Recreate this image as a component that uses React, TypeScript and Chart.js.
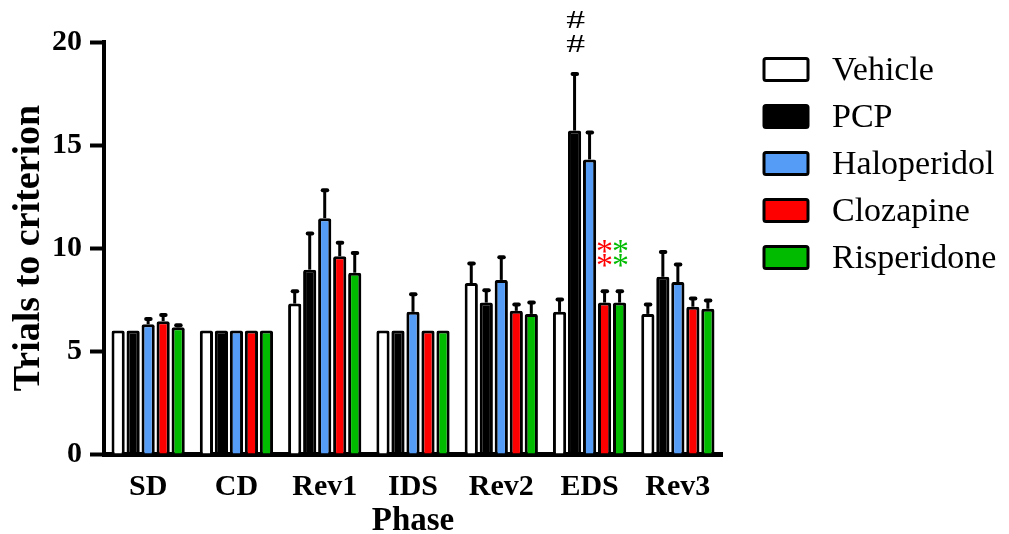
import React, { useEffect, useRef } from 'react';
import { Chart, registerables } from 'chart.js';

Chart.register(...registerables);

const phases = ['SD', 'CD', 'Rev1', 'IDS', 'Rev2', 'EDS', 'Rev3'];
const groupNames = ['Vehicle', 'PCP', 'Haloperidol', 'Clozapine', 'Risperidone'];
const groupColors = ['#ffffff', '#000000', '#559cf6', '#ff0000', '#00bb00'];

const vehicleMean = [6, 6, 7.3, 6, 8.3, 6.9, 6.8];
const vehicleSem = [0, 0, 0.65, 0, 1.0, 0.65, 0.5];
const pcpMean = [6, 6, 8.95, 6, 7.35, 15.7, 8.6];
const pcpSem = [0, 0, 1.8, 0, 0.65, 2.8, 1.25];
const haloMean = [6.3, 6, 11.45, 6.9, 8.45, 14.3, 8.35];
const haloSem = [0.3, 0, 1.4, 0.9, 1.15, 1.35, 0.9];
const clozMean = [6.45, 6, 9.6, 6, 6.95, 7.35, 7.15];
const clozSem = [0.35, 0, 0.7, 0, 0.35, 0.6, 0.45];
const rispMean = [6.15, 6, 8.8, 6, 6.8, 7.35, 7.05];
const rispSem = [0.15, 0, 1.0, 0, 0.6, 0.6, 0.45];

const means = [vehicleMean, pcpMean, haloMean, clozMean, rispMean];
const sems = [vehicleSem, pcpSem, haloSem, clozSem, rispSem];

const SERIF = '"Liberation Serif", "Times New Roman", serif';

const errorBarPlugin = {
  id: 'errorBars',
  afterDatasetsDraw(chart: any) {
    const ctx = chart.ctx;
    const ys = chart.scales.y;
    chart.data.datasets.forEach((ds: any, i: number) => {
      const meta = chart.getDatasetMeta(i);
      meta.data.forEach((bar: any, j: number) => {
        const e = sems[i][j];
        if (!e) return;
        const v = ds.data[j];
        const x = bar.x;
        const y0 = bar.y;
        const y1 = ys.getPixelForValue(v + e);
        ctx.save();
        ctx.strokeStyle = '#000';
        ctx.lineWidth = 3;
        ctx.beginPath();
        ctx.moveTo(x, y0);
        ctx.lineTo(x, y1);
        ctx.stroke();
        ctx.lineWidth = 4;
        ctx.lineCap = 'round';
        ctx.beginPath();
        ctx.moveTo(x - 2, y1 + 1);
        ctx.lineTo(x + 2.5, y1 + 1);
        ctx.stroke();
        ctx.restore();
      });
    });
  },
};

const annotationPlugin = {
  id: 'annotations',
  afterDatasetsDraw(chart: any) {
    const ctx = chart.ctx;
    const ys = chart.scales.y;
    const eds = phases.indexOf('EDS');
    const pcpBar = chart.getDatasetMeta(1).data[eds];
    const clozBar = chart.getDatasetMeta(3).data[eds];
    const rispBar = chart.getDatasetMeta(4).data[eds];
    ctx.save();
    const pcpTop = ys.getPixelForValue(pcpMean[eds] + pcpSem[eds]);
    ctx.fillStyle = '#000';
    ctx.textAlign = 'center';
    ctx.textBaseline = 'alphabetic';
    ctx.font = `26px ${SERIF}`;
    [pcpTop - 52.5, pcpTop - 29].forEach((cy) => {
      ctx.save();
      ctx.translate(pcpBar.x + 1, cy);
      ctx.scale(1.45, 0.95);
      ctx.fillText('#', 0, 8.5);
      ctx.restore();
    });
    const clozTop = ys.getPixelForValue(clozMean[eds] + clozSem[eds]);
    ctx.font = `34px ${SERIF}`;
    [clozTop - 46, clozTop - 32].forEach((cy) => {
      ctx.fillStyle = '#ff0000';
      ctx.fillText('*', clozBar.x, cy + 18);
      ctx.fillStyle = '#00bb00';
      ctx.fillText('*', rispBar.x + 1, cy + 18);
    });
    ctx.restore();
  },
};

const legendPlugin = {
  id: 'customLegend',
  afterDraw(chart: any) {
    const ctx = chart.ctx;
    ctx.save();
    groupNames.forEach((name, i) => {
      const cy = 69.5 + i * 47;
      const bx = 764;
      const bw = 44;
      const bh = 22;
      ctx.fillStyle = groupColors[i];
      ctx.strokeStyle = '#000';
      ctx.lineWidth = 3;
      ctx.beginPath();
      ctx.roundRect(bx, cy - bh / 2, bw, bh, 2);
      ctx.fill();
      ctx.stroke();
      ctx.fillStyle = '#000';
      ctx.font = `34px ${SERIF}`;
      ctx.textAlign = 'left';
      ctx.textBaseline = 'middle';
      ctx.fillText(name, 832, cy + 2);
    });
    ctx.restore();
  },
};

export default function App() {
  const ref = useRef<HTMLCanvasElement | null>(null);

  useEffect(() => {
    if (!ref.current) return;
    const chart = new Chart(ref.current, {
      type: 'bar',
      data: {
        labels: phases,
        datasets: groupNames.map((name, i) => ({
          label: name,
          data: means[i],
          backgroundColor: groupColors[i],
          borderColor: '#000',
          borderWidth: 3,
          borderRadius: 2,
          barPercentage: 0.88,
          categoryPercentage: 0.85,
        })),
      },
      options: {
        animation: false,
        responsive: true,
        maintainAspectRatio: false,
        layout: { padding: { top: 42, right: 287, bottom: 0, left: 0 } },
        plugins: {
          legend: { display: false },
          tooltip: { enabled: false },
        },
        scales: {
          x: {
            grid: { display: false },
            border: { display: true, color: '#000', width: 5 },
            ticks: {
              color: '#000',
              padding: 7,
              font: { family: SERIF, size: 30, weight: 'bold' },
              maxRotation: 0,
            },
            title: {
              display: true,
              text: 'Phase',
              color: '#000',
              font: { family: SERIF, size: 33, weight: 'bold', lineHeight: 1 },
              padding: { top: 0, bottom: -4 },
            },
            afterFit(scale: any) {
              scale.height = 80;
            },
          },
          y: {
            min: 0,
            max: 20,
            grid: {
              display: true,
              drawOnChartArea: false,
              drawTicks: true,
              tickLength: 14,
              tickWidth: 4,
              tickColor: '#000',
            },
            border: { display: true, color: '#000', width: 4 },
            ticks: {
              stepSize: 5,
              color: '#000',
              padding: 8,
              font: { family: SERIF, size: 30, weight: 'bold' },
            },
            title: {
              display: true,
              text: 'Trials to criterion',
              color: '#000',
              font: { family: SERIF, size: 38, weight: 'bold', lineHeight: 1 },
              padding: { top: 10, bottom: 0 },
            },
            afterFit(scale: any) {
              scale.width = 104;
            },
          },
        },
      },
      plugins: [errorBarPlugin, annotationPlugin, legendPlugin],
    });
    return () => chart.destroy();
  }, []);

  return (
    <div style={{ position: 'fixed', left: 0, top: 0, width: 1009, height: 534, background: '#fff' }}>
      <canvas ref={ref} />
    </div>
  );
}
